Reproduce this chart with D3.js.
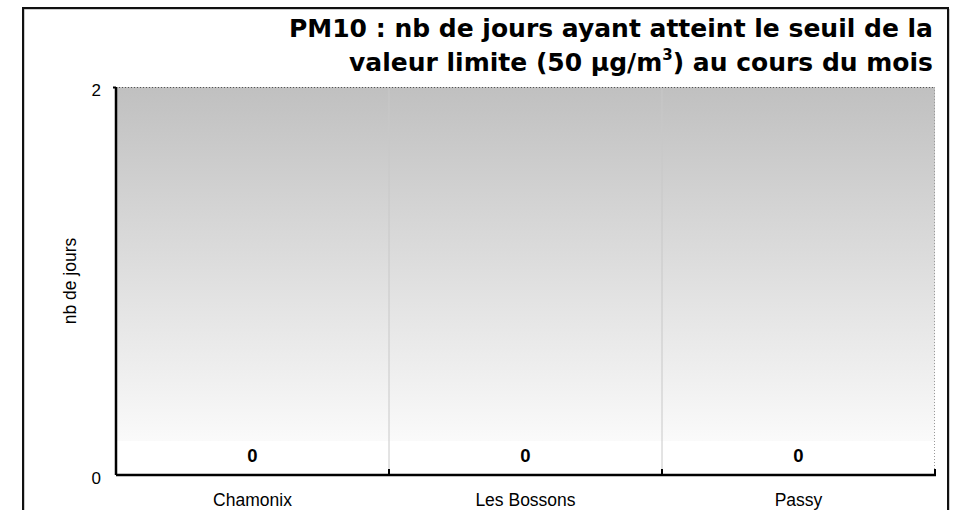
<!DOCTYPE html>
<html><head><meta charset="utf-8">
<script src="https://cdn.jsdelivr.net/npm/d3@7"></script>
<style>body{margin:0;background:#fff}svg{display:block}</style>
</head><body><svg id="c" width="964" height="510"></svg>
<script>
const categories = ["Chamonix", "Les Bossons", "Passy"];
const values = [0, 0, 0];
const yTicks = [0, 2];
const titleLines = ["PM10 : nb de jours ayant atteint le seuil de la", "valeur limite (50 µg/m³) au cours du mois"];
const yLabel = "nb de jours";

const svg = d3.select("#c");
const L = 116, R = 935, T = 87, B = 475;
const x = d3.scaleBand().domain(categories).range([L, R]);
const y = d3.scaleLinear().domain([0, 2]).range([B, T]);
const sans = "Liberation Sans, Arial, sans-serif";

// outer frame
svg.append("path").attr("d", "M23,512V8H948V512").attr("fill", "none").attr("stroke", "#999").attr("stroke-width", 1).attr("transform", "translate(1,1)");
svg.append("path").attr("d", "M23,512V8H948V512").attr("fill", "none").attr("stroke", "#111").attr("stroke-width", 2);

// gradient background
const defs = svg.append("defs");
const g = defs.append("linearGradient").attr("id", "bg").attr("x1", 0).attr("y1", 0).attr("x2", 0).attr("y2", 1);
g.append("stop").attr("offset", "0%").attr("stop-color", "#c0c0c0");
g.append("stop").attr("offset", "100%").attr("stop-color", "#fafafa");
const gradBottom = y(0.175);
svg.append("rect").attr("x", L).attr("y", T).attr("width", R - L).attr("height", gradBottom - T).attr("fill", "url(#bg)");

// dividers
svg.selectAll("line.div").data(categories.slice(1)).enter().append("line")
  .attr("x1", d => x(d)).attr("x2", d => x(d)).attr("y1", T).attr("y2", B)
  .attr("stroke", "#c8c8c8").attr("stroke-width", 1);

// top and right dotted borders
svg.append("line").attr("x1", L).attr("x2", R).attr("y1", T + 0.5).attr("y2", T + 0.5)
  .attr("stroke", "#555").attr("stroke-dasharray", "1,2");
svg.append("line").attr("x1", R - 0.5).attr("x2", R - 0.5).attr("y1", T).attr("y2", B)
  .attr("stroke", "#999").attr("stroke-dasharray", "1,2");

// y axis
const yAxis = d3.axisLeft(y).tickValues(yTicks).tickSize(4).tickFormat(d3.format("d"));
const ya = svg.append("g").attr("transform", `translate(${L},0)`).call(yAxis);
ya.select(".domain").attr("stroke", "#000").attr("stroke-width", 2.5).attr("d", `M0,${T}V${B}`);
ya.selectAll(".tick line").attr("stroke", "#000").attr("stroke-width", 2).attr("x2", d => d === 0 ? 0 : -3);
ya.selectAll(".tick text").attr("font-family", sans).attr("font-size", 17).attr("fill", "#000")
  .attr("x", -15).attr("y", 3).attr("dy", "0.35em");

// x axis
const xa = svg.append("g").attr("transform", `translate(0,${B})`);
xa.append("line").attr("x1", L).attr("x2", R + 1).attr("y1", 0).attr("y2", 0).attr("stroke", "#000").attr("stroke-width", 2.5);
const bounds = categories.map(c => x(c) + x.bandwidth());
xa.selectAll("line.tk").data(bounds).enter().append("line")
  .attr("x1", d => d).attr("x2", d => d).attr("y1", 0).attr("y2", -6)
  .attr("stroke", "#000").attr("stroke-width", 2);
xa.selectAll("text").data(categories).enter().append("text")
  .attr("x", d => x(d) + x.bandwidth() / 2).attr("y", 31)
  .attr("text-anchor", "middle").attr("font-family", sans).attr("font-size", 17.5).text(d => d);

// value labels
svg.selectAll("text.val").data(values).enter().append("text")
  .attr("x", (d, i) => x(categories[i]) + x.bandwidth() / 2).attr("y", y(0) - 13)
  .attr("text-anchor", "middle").attr("font-family", sans).attr("font-weight", "bold")
  .attr("font-size", 18.5).text(d => d);

// y label
svg.append("text").attr("transform", `translate(76,${(T + B) / 2}) rotate(-90)`)
  .attr("text-anchor", "middle").attr("font-family", sans).attr("font-size", 17.5).text(yLabel);

// title
const tt = svg.append("text").attr("text-anchor", "end").attr("font-family", "DejaVu Sans, Verdana, sans-serif")
  .attr("font-weight", "bold").attr("font-size", 25);
tt.append("tspan").attr("x", 933).attr("y", 37).text(titleLines[0]);
const t2 = tt.append("tspan").attr("x", 933).attr("y", 71);
t2.text("valeur limite (50 µg/m");
tt.append("tspan").attr("font-size", 15).attr("dy", -11).text("3");
tt.append("tspan").attr("dy", 11).text(") au cours du mois");
</script></body></html>
